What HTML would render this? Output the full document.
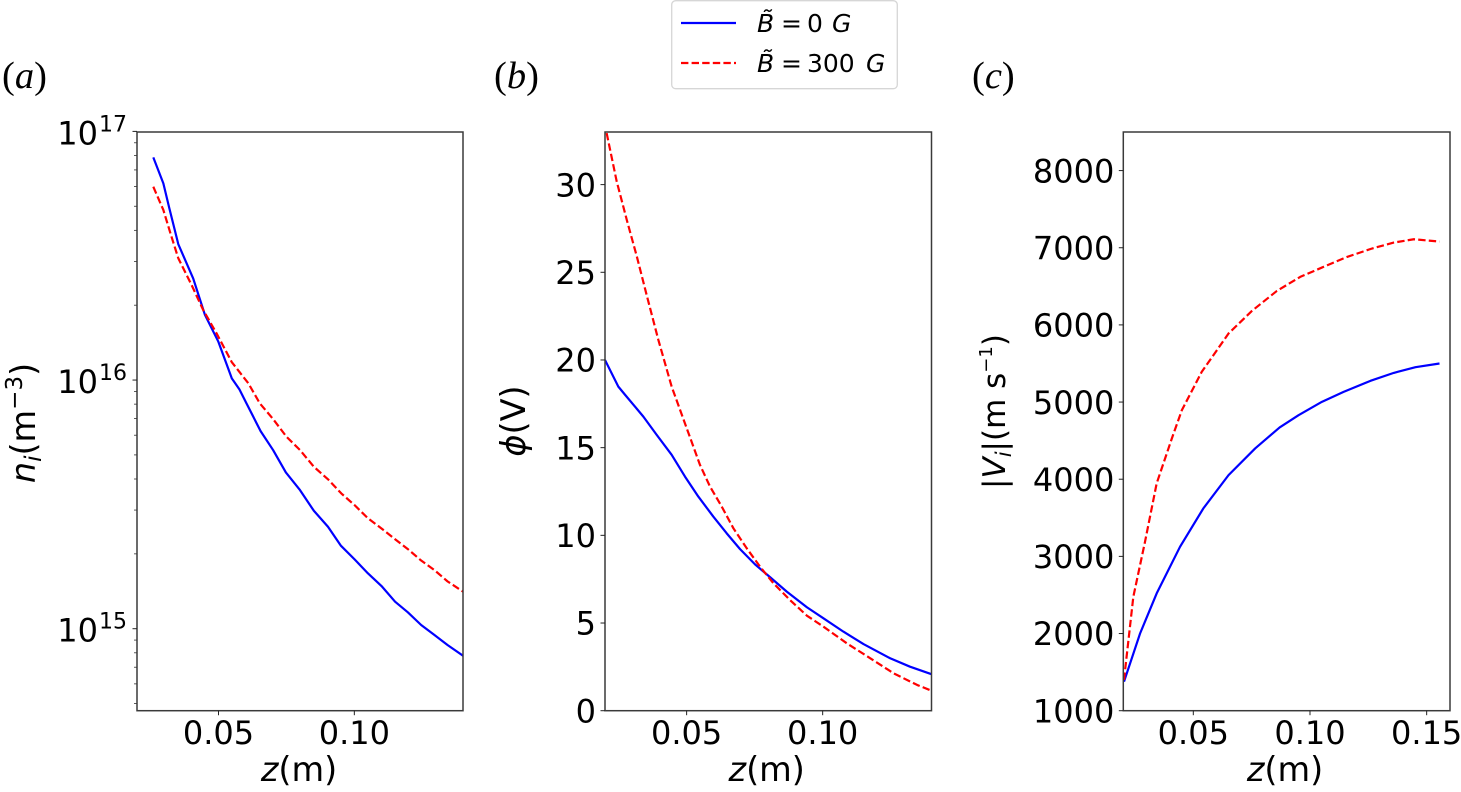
<!DOCTYPE html>
<html lang="en">
<head>
<meta charset="utf-8">
<title>Ion density, potential and velocity profiles</title>
<style>
html,body{margin:0;padding:0;background:#fff;width:1461px;height:792px;overflow:hidden}
svg{display:block}
text{font-family:"DejaVu Sans","Liberation Sans",sans-serif;fill:#000}
.tick{font-size:32px}
.title{font-size:33.5px}
.panel{font-family:"Liberation Serif",serif;font-size:38.5px}
.panel tspan{font-style:italic}
.leg{font-size:25px}
.i{font-style:italic}
</style>
</head>
<body>
<svg id="fig" xmlns="http://www.w3.org/2000/svg" width="1461" height="792" viewBox="0 0 1461 792">
  <defs>
    <clipPath id="clip-a"><rect x="137" y="132" width="326" height="578.7"/></clipPath>
    <clipPath id="clip-b"><rect x="605" y="132" width="326.5" height="578.7"/></clipPath>
    <clipPath id="clip-c"><rect x="1123.3" y="132" width="326.7" height="578.7"/></clipPath>
  </defs>
  <g id="panel-a"></g>
  <g id="panel-b"></g>
  <g id="panel-c"></g>

  <text class="panel" x="2" y="88">(<tspan>a</tspan>)</text>
  <text class="panel" x="494" y="88">(<tspan>b</tspan>)</text>
  <text class="panel" x="972" y="88">(<tspan>c</tspan>)</text>

  <text class="title" transform="translate(35,423) rotate(-90)" text-anchor="middle"><tspan class="i">n</tspan><tspan class="i" font-size="23" dy="6">i</tspan><tspan dy="-6">(m</tspan><tspan font-size="23" dy="-13">−3</tspan><tspan dy="13">)</tspan></text>
  <text class="title" transform="translate(525,421) rotate(-90)" text-anchor="middle"><tspan class="i">ϕ</tspan>(V)</text>
  <text class="title" style="font-size:31px" transform="translate(1005,411.5) rotate(-90)" text-anchor="middle">|<tspan class="i">V</tspan><tspan class="i" font-size="21" dy="6">i</tspan><tspan dy="-6">|(m s</tspan><tspan font-size="18" dy="-13">−1</tspan><tspan dy="13">)</tspan></text>

  <text class="title" x="299" y="781" text-anchor="middle"><tspan class="i">z</tspan>(m)</text>
  <text class="title" x="766.7" y="781" text-anchor="middle"><tspan class="i">z</tspan>(m)</text>
  <text class="title" x="1285" y="781" text-anchor="middle"><tspan class="i">z</tspan>(m)</text>

  <g id="legend">
    <rect x="671.7" y="0.7" width="225.6" height="88" rx="4" ry="4" fill="#fff" stroke="#d6d6d6" stroke-width="1.3"/>
    <line x1="681" y1="23" x2="736" y2="23" stroke="#0000ff" stroke-width="2.2"/>
    <line x1="681" y1="63" x2="736" y2="63" stroke="#ff0000" stroke-width="2.2" stroke-dasharray="7.4 3.2"/>
    <text class="leg" y="32"><tspan class="i" x="757">B̃</tspan><tspan x="781">=</tspan><tspan x="807">0</tspan><tspan class="i" x="832">G</tspan></text>
    <text class="leg" y="72"><tspan class="i" x="757">B̃</tspan><tspan x="781">=</tspan><tspan x="807">300</tspan><tspan class="i" x="866">G</tspan></text>
  </g>
</svg>
<script>
// ---- Panel (a): ion density ----
const zDensityBlue = [.026,.0297,.0319,.0352,.0407,.045,.0499,.0549,.0577,.0603,.0655,.0701,.0748,.08,.0851,.0903,.095,.1001,.105,.11,.115,.1197,.1246,.1295,.1343,.14];
const densityBlue = [7.86e16,6.18e16,4.91e16,3.52e16,2.56e16,1.83e16,1.43e16,1.016e16,9.17e15,8.06e15,6.23e15,5.23e15,4.25e15,3.61e15,2.98e15,2.57e15,2.16e15,1.90e15,1.67e15,1.485e15,1.284e15,1.164e15,1.035e15,9.43e14,8.60e14,7.79e14];
const zDensityRed = [.026,.0297,.0327,.0352,.0401,.0444,.0493,.0549,.061,.0652,.0701,.075,.08,.0851,.0903,.0952,.1001,.105,.11,.115,.1197,.1246,.1295,.1343,.14];
const densityRed = [5.99e16,4.83e16,3.77e16,3.09e16,2.41e16,1.91e16,1.54e16,1.18e16,9.70e15,8.06e15,6.97e15,5.92e15,5.23e15,4.48e15,3.99e15,3.50e15,3.14e15,2.78e15,2.53e15,2.29e15,2.09e15,1.88e15,1.72e15,1.55e15,1.41e15];
const densityTickExponents = [15,16,17];
const densityMinorDecades = [14,15,16];
const densityMinorMultipliers = [2,3,4,5,6,7,8,9];

// ---- Panel (b): potential ----
const zPotentialBlue = [.02,.0249,.0274,.0341,.039,.0445,.0494,.0543,.0598,.0647,.0696,.0751,.0807,.0868,.0942,.1003,.1076,.115,.1248,.1321,.14];
const potentialBlue = [20.0,18.48,18.01,16.77,15.73,14.59,13.35,12.21,11.07,10.12,9.22,8.35,7.61,6.79,5.9,5.27,4.51,3.8,2.99,2.51,2.08];
const zPotentialRed = [.0206,.0243,.028,.0317,.0353,.0396,.0445,.0549,.0586,.0629,.0672,.0721,.077,.0819,.088,.0942,.1003,.1089,.1175,.1261,.1347,.14];
const potentialRed = [32.94,30.18,27.99,25.9,23.71,21.15,18.48,14.02,12.78,11.64,10.4,9.26,8.21,7.27,6.31,5.42,4.79,3.84,2.99,2.13,1.47,1.14];
const potentialTicks = [0,5,10,15,20,25,30];

// ---- Panel (c): velocity ----
const zVelocityBlue = [.0203,.0272,.0343,.0443,.0543,.0651,.0765,.087,.0951,.1051,.1144,.1259,.1359,.1452,.1555];
const velocityBlue = [1376,2002,2520,3124,3622,4053,4399,4671,4830,5003,5132,5275,5378,5452,5500];
const zVelocityRed = [.0203,.0243,.0293,.0343,.0408,.0451,.0536,.0601,.0651,.0751,.0858,.0958,.1051,.1159,.1266,.1359,.1445,.1555];
const velocityRed = [1400,2477,3189,3946,4528,4895,5391,5672,5889,6181,6440,6622,6743,6881,6990,7067,7110,7080];
const velocityTicks = [1000,2000,3000,4000,5000,6000,7000,8000];

// ---- Shared x tick values ----
const zTicksShort = [0.05,0.10];
const zTicksLong = [0.05,0.10,0.15];

const NS = 'http://www.w3.org/2000/svg';

function linearScale(d0, d1, r0, r1) {
  return v => r0 + (v - d0) / (d1 - d0) * (r1 - r0);
}
function logScale(d0, d1, r0, r1) {
  return v => r0 + (Math.log10(v) - Math.log10(d0)) / (Math.log10(d1) - Math.log10(d0)) * (r1 - r0);
}

function drawFrame(g, L, T, R, B, key) {
  const r = document.createElementNS(NS, 'rect');
  
  
  r.setAttribute('x', L); r.setAttribute('y', T);
  r.setAttribute('width', R - L); r.setAttribute('height', B - T);
  r.setAttribute('fill', 'none');
  r.setAttribute('stroke', '#3a3a3a');
  r.setAttribute('stroke-width', '1.5');
  g.appendChild(r);
}

function drawXTicks(g, values, x, B, key) {
  values.forEach(v => {
    const t = document.createElementNS(NS, 'line');
    
    
    t.setAttribute('x1', x(v)); t.setAttribute('x2', x(v));
    t.setAttribute('y1', B); t.setAttribute('y2', B + 4.5);
    t.setAttribute('stroke', '#222');
    t.setAttribute('stroke-width', '1');
    g.appendChild(t);
    const l = document.createElementNS(NS, 'text');
    
    
    l.setAttribute('class', 'tick');
    l.setAttribute('x', x(v)); l.setAttribute('y', 744);
    l.setAttribute('text-anchor', 'middle');
    l.textContent = v.toFixed(2);
    g.appendChild(l);
  });
}

function drawYTicks(g, values, y, L, key) {
  values.forEach(v => {
    const t = document.createElementNS(NS, 'line');
    
    
    t.setAttribute('x1', L - 4.5); t.setAttribute('x2', L);
    t.setAttribute('y1', y(v)); t.setAttribute('y2', y(v));
    t.setAttribute('stroke', '#222');
    t.setAttribute('stroke-width', '1');
    g.appendChild(t);
    const l = document.createElementNS(NS, 'text');
    
    
    l.setAttribute('class', 'tick');
    l.setAttribute('x', L - 9); l.setAttribute('y', y(v) + 11.7);
    l.setAttribute('text-anchor', 'end');
    l.textContent = v;
    g.appendChild(l);
  });
}

function drawSeries(g, xs, ys, x, y, color, dashed, clip, name) {
  const p = document.createElementNS(NS, 'polyline');
  
  
  p.setAttribute('points', xs.map((v, i) => x(v).toFixed(2) + ',' + y(ys[i]).toFixed(2)).join(' '));
  p.setAttribute('fill', 'none');
  p.setAttribute('stroke', color);
  p.setAttribute('stroke-width', '2.2');
  p.setAttribute('stroke-linejoin', 'round');
  if (dashed) p.setAttribute('stroke-dasharray', '7.4 3.2');
  p.setAttribute('clip-path', 'url(#' + clip + ')');
  g.appendChild(p);
}

// Panel (a)
(function () {
  const g = document.getElementById('panel-a');
  const L = 137, R = 463, T = 132, B = 710.7;
  const x = linearScale(0.02, 0.14, L, R);
  const y = logScale(4.68e14, 1e17, B, 131.4);
  drawSeries(g, zDensityBlue, densityBlue, x, y, '#0000ff', false, 'clip-a', 'density-line-0g');
  drawSeries(g, zDensityRed, densityRed, x, y, '#ff0000', true, 'clip-a', 'density-line-300g');
  drawFrame(g, L, T, R, B, 'density');
  drawXTicks(g, zTicksShort, x, B, 'density');
  densityMinorDecades.forEach(d => {
    densityMinorMultipliers.forEach(m => {
      const v = m * Math.pow(10, d);
      if (v < 4.68e14) return;
      const t = document.createElementNS(NS, 'line');
      
      
      t.setAttribute('x1', L - 3); t.setAttribute('x2', L);
      t.setAttribute('y1', y(v)); t.setAttribute('y2', y(v));
      t.setAttribute('stroke', '#333');
      t.setAttribute('stroke-width', '0.8');
      g.appendChild(t);
    });
  });
  densityTickExponents.forEach(e => {
    const v = Math.pow(10, e);
    const t = document.createElementNS(NS, 'line');
    
    
    t.setAttribute('x1', L - 4.5); t.setAttribute('x2', L);
    t.setAttribute('y1', y(v)); t.setAttribute('y2', y(v));
    t.setAttribute('stroke', '#222');
    t.setAttribute('stroke-width', '1');
    g.appendChild(t);
    const l = document.createElementNS(NS, 'text');
    
    
    l.setAttribute('class', 'tick');
    l.setAttribute('x', 127); l.setAttribute('y', y(v) + 13);
    l.setAttribute('text-anchor', 'end');
    l.textContent = '10';
    const s = document.createElementNS(NS, 'tspan');
    s.setAttribute('font-size', '22');
    s.setAttribute('dy', '-13');
    s.setAttribute('dx', '1');
    s.textContent = e;
    l.appendChild(s);
    g.appendChild(l);
  });
})();

// Panel (b)
(function () {
  const g = document.getElementById('panel-b');
  const L = 605, R = 931.5, T = 132, B = 710.7;
  const x = linearScale(0.02, 0.14, L, R);
  const y = linearScale(0, 33, B, T);
  drawSeries(g, zPotentialBlue, potentialBlue, x, y, '#0000ff', false, 'clip-b', 'potential-line-0g');
  drawSeries(g, zPotentialRed, potentialRed, x, y, '#ff0000', true, 'clip-b', 'potential-line-300g');
  drawFrame(g, L, T, R, B, 'potential');
  drawXTicks(g, zTicksShort, x, B, 'potential');
  drawYTicks(g, potentialTicks, y, L, 'potential');
})();

// Panel (c)
(function () {
  const g = document.getElementById('panel-c');
  const L = 1123.3, R = 1450, T = 132, B = 710.7;
  const x = linearScale(0.02, 0.16, L, R);
  const y = linearScale(1000, 8500, B, T);
  drawSeries(g, zVelocityBlue, velocityBlue, x, y, '#0000ff', false, 'clip-c', 'velocity-line-0g');
  drawSeries(g, zVelocityRed, velocityRed, x, y, '#ff0000', true, 'clip-c', 'velocity-line-300g');
  drawFrame(g, L, T, R, B, 'velocity');
  drawXTicks(g, zTicksLong, x, B, 'velocity');
  drawYTicks(g, velocityTicks, y, L, 'velocity');
})();
</script>
</body>
</html>
